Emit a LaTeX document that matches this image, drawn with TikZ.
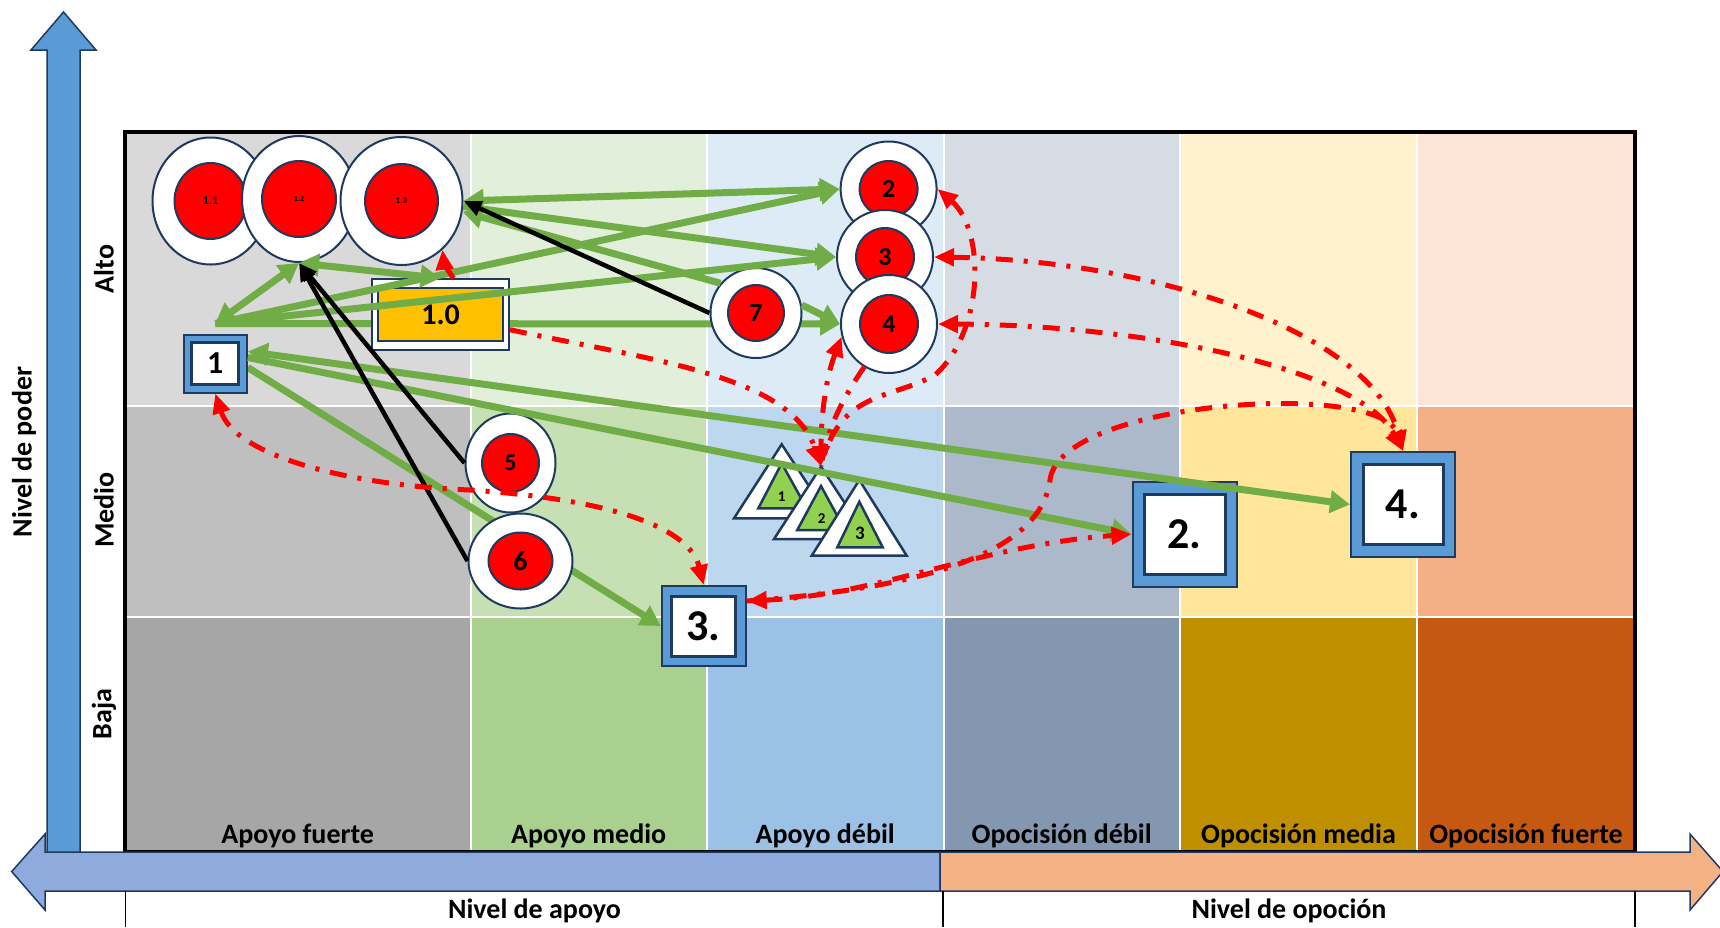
\documentclass[tikz,border=0pt]{standalone}
\usepackage{fontspec}
\setmainfont{Carlito}
\usetikzlibrary{arrows.meta,shapes.geometric}
\newcommand\fsz[1]{\fontsize{#1}{#1}\selectfont\bfseries}
\definecolor{navy}{HTML}{1F3A5F}
\definecolor{boxblue}{HTML}{5B9BD5}
\definecolor{axblue}{HTML}{5B9BD5}
\definecolor{hblue}{HTML}{8FAADC}
\definecolor{horange}{HTML}{F4B183}
\definecolor{grn}{HTML}{70AD47}
\definecolor{trig}{HTML}{92D050}
\definecolor{gold}{HTML}{FFC000}
\definecolor{af1}{HTML}{D9D9D9}\definecolor{af2}{HTML}{BFBFBF}\definecolor{af3}{HTML}{A6A6A6}
\definecolor{am1}{HTML}{E2EFDA}\definecolor{am2}{HTML}{C6E0B4}\definecolor{am3}{HTML}{A9D08E}
\definecolor{ad1}{HTML}{DDEBF7}\definecolor{ad2}{HTML}{BDD7EE}\definecolor{ad3}{HTML}{9BC2E6}
\definecolor{od1}{HTML}{D6DCE4}\definecolor{od2}{HTML}{ACB9CA}\definecolor{od3}{HTML}{8497B0}
\definecolor{om1}{HTML}{FFF2CC}\definecolor{om2}{HTML}{FFE699}\definecolor{om3}{HTML}{BF8F00}
\definecolor{of1}{HTML}{FCE4D6}\definecolor{of2}{HTML}{F4B084}\definecolor{of3}{HTML}{C65911}
\pgfdeclarelayer{back}
\pgfdeclarelayer{behind}
\pgfdeclarelayer{front}
\pgfsetlayers{back,behind,main,front}
\tikzset{
  gtip/.tip={Triangle[length=20pt,width=22pt]},
  rtip/.tip={Triangle[length=20pt,width=17pt]},
  ktip/.tip={Triangle[length=18pt,width=15pt]},
  cell/.style={draw=white,line width=2pt},
  axlab/.style={font=\fsz{28}},
  bluebox/.style={rectangle,draw=navy,line width=2pt,fill=boxblue,inner sep=0pt},
  whitebox/.style={rectangle,draw=navy,line width=3pt,fill=white,inner sep=0pt},
  outerc/.style={ellipse,draw=navy,line width=2pt,fill=white,inner sep=0pt},
  innerc/.style={ellipse,draw=navy,line width=2pt,fill=red,inner sep=0pt},
  gline/.style={draw=grn,line width=7pt},
  kline/.style={draw=black,line width=4.5pt},
  rline/.style={draw=red,line width=5pt,dash pattern=on 17pt off 11pt on 4pt off 11pt},
  tri/.style={draw=navy,line width=2.5pt},
}
\begin{document}
\begin{tikzpicture}[x=1pt,y=-1pt]
\useasboundingbox (0,0) rectangle (1720,927);
% ---------- grid ----------
\begin{pgfonlayer}{back}
\foreach \xa/\xb/\ca/\cb/\cc in {125/470.5/af1/af2/af3, 470.5/707/am1/am2/am3, 707/943.5/ad1/ad2/ad3, 943.5/1180/od1/od2/od3, 1180/1417/om1/om2/om3, 1417/1635/of1/of2/of3}{
  \filldraw[cell,fill=\ca] (\xa,132) rectangle (\xb,406);
  \filldraw[cell,fill=\cb] (\xa,406) rectangle (\xb,616.5);
  \filldraw[cell,fill=\cc] (\xa,616.5) rectangle (\xb,852);
}
\draw[line width=3.5pt] (125,132) rectangle (1635,852);
% vertical axis arrow
\draw[fill=axblue,draw=navy,line width=1.5pt] (47,853) -- (47,50) -- (31,50) -- (63.5,12) -- (96,50) -- (80,50) -- (80,853) -- cycle;
% horizontal axis arrow
\draw[fill=hblue,draw=navy,line width=1.5pt] (940,852) -- (45,852) -- (45,834) -- (11.7,871.5) -- (45,910) -- (45,891) -- (940,891) -- cycle;
\draw[fill=horange,draw=navy,line width=1.5pt] (940,852) -- (1690,852) -- (1690,834) -- (1723,871.5) -- (1690,910) -- (1690,891) -- (940,891) -- cycle;
\draw[line width=1.5pt] (125.5,891) -- (125.5,927);
\draw[line width=1.5pt] (943,891) -- (943,927);
\draw[line width=1.5pt] (1635,891) -- (1635,927);
\end{pgfonlayer}
% ---------- labels ----------
\node[axlab,anchor=base] (l1) at (297.7,843) {Apoyo fuerte};
\node[axlab,anchor=base] (l2) at (588.7,843) {Apoyo medio};
\node[axlab,anchor=base] (l3) at (825.2,843) {Apoyo débil};
\node[axlab,anchor=base] (l4) at (1061.7,843) {Opocisión débil};
\node[axlab,anchor=base] (l5) at (1298.5,843) {Opocisión media};
\node[axlab,anchor=base] (l6) at (1526,843) {Opocisión fuerte};
\node[axlab,anchor=base] (b1) at (534.5,918) {Nivel de apoyo};
\node[axlab,anchor=base] (b2) at (1289,918) {Nivel de opoción};
\node[axlab,rotate=90] (v1) at (104,269) {Alto};
\node[axlab,rotate=90] (v2) at (104,510) {Medio};
\node[axlab,rotate=90] (v3) at (104,714) {Baja};
\node[axlab,rotate=90] (v0) at (24,452) {Nivel de poder};
% ---------- nodes ----------
\node[outerc,minimum width=116pt,minimum height=127pt] (c11) at (210.5,201) {};
\node[innerc,minimum width=72pt,minimum height=76pt,font=\fsz{12}] (c11i) at (c11) {1.1};
\node[outerc,minimum width=114pt,minimum height=126pt] (c12) at (299,199) {};
\node[innerc,minimum width=74pt,minimum height=76pt,font=\fsz{8}] (c12i) at (c12) {1.2};
\node[outerc,minimum width=122pt,minimum height=128pt] (c13) at (401.5,201) {};
\node[innerc,minimum width=73pt,minimum height=74pt,font=\fsz{9}] (c13i) at (c13) {1.3};
\node[rectangle,draw=navy,line width=2pt,fill=white,minimum width=137pt,minimum height=71pt,inner sep=0pt] (box10) at (440.5,314.7) {};
\node[rectangle,draw=navy,line width=2pt,fill=gold,minimum width=125pt,minimum height=53pt,inner sep=0pt,font=\fsz{30}] (box10i) at (box10) {1.0};
\node[bluebox,minimum width=63pt,minimum height=58pt] (box1) at (215.3,363.5) {};
\node[whitebox,minimum width=47pt,minimum height=42pt,font=\fsz{32}] (box1i) at (box1) {1};
\node[outerc,minimum width=91pt,minimum height=90pt] (c7) at (756,313) {};
\node[innerc,minimum size=56pt,font=\fsz{26}] (c7i) at (c7) {7};
\node[outerc,minimum width=96pt,minimum height=95pt] (c2) at (888.6,189) {};
\node[innerc,minimum width=58pt,minimum height=56pt,font=\fsz{26}] (c2i) at (c2) {2};
\node[outerc,minimum width=96pt,minimum height=94pt] (c3) at (885,257) {};
\node[innerc,minimum size=58pt,font=\fsz{26}] (c3i) at (c3) {3};
\node[outerc,minimum width=96pt,minimum height=98pt] (c4) at (889,324) {};
\node[innerc,minimum size=58pt,font=\fsz{26}] (c4i) at (c4) {4};
\node[outerc,minimum width=90pt,minimum height=99pt] (c5) at (510.5,463) {};
\node[innerc,minimum width=57pt,minimum height=58pt,font=\fsz{24}] (c5i) at (c5) {5};
\node[outerc,minimum width=104pt,minimum height=95pt] (c6) at (520.5,561) {};
\node[innerc,minimum width=64pt,minimum height=57pt,font=\fsz{28}] (c6i) at (c6) {6};
\node[bluebox,minimum width=84pt,minimum height=80pt] (box3) at (703.7,626) {};
\node[whitebox,minimum width=64pt,minimum height=60pt,font=\fsz{44}] (box3i) at (box3) {3.};
\node[bluebox,minimum width=104pt,minimum height=105pt] (box2) at (1184.5,534.2) {};
\node[whitebox,minimum width=81pt,minimum height=80pt,font=\fsz{44}] (box2i) at (box2) {2.};
\node[bluebox,minimum width=104pt,minimum height=105pt] (box4) at (1403,504.5) {};
\node[whitebox,minimum width=80pt,minimum height=80pt,font=\fsz{44}] (box4i) at (box4) {4.};
% triangles
\draw[tri,fill=white] (781.7,444.3) -- (734,518.3) -- (830,518.3) -- cycle;
\draw[tri,fill=trig] (781.7,463.3) -- (758.3,508.3) -- (806.7,508.3) -- cycle;
\node[font=\fsz{15}] (t1) at (781.7,497) {1};
\draw[tri,fill=white] (821,466.7) -- (774,539) -- (868.3,539) -- cycle;
\draw[tri,fill=trig] (821,486) -- (797.3,530) -- (845,530) -- cycle;
\node[font=\fsz{15}] (t2) at (821.7,519) {2};
\draw[tri,fill=white] (859.3,480) -- (811.7,555.7) -- (906.7,555.7) -- cycle;
\draw[tri,fill=trig] (859.3,501.7) -- (837.3,547.3) -- (882.7,547.3) -- cycle;
\node[font=\fsz{19}] (t3) at (860,533) {3};
\coordinate (t2top) at (821,466);
\coordinate (n1top) at ([yshift=10pt]box1.north);
% ---------- connectors behind ----------
\begin{pgfonlayer}{behind}
\draw[gline,-gtip] (n1top) -- (c4.west);
\draw[gline,-gtip] ([yshift=-4pt]box1.east) -- (box3.west);
\end{pgfonlayer}
% ---------- connectors in front ----------
\begin{pgfonlayer}{front}
\draw[gline,gtip-gtip] (c13.east) -- (c2.west);
\draw[gline,-gtip] (c13.355) -- (c3.west);
\draw[gline,-gtip] (c7.140) -- (c13.350);
\draw[gline,gtip-gtip] (n1top) -- (c12.south);
\draw[gline,-gtip] (n1top) -- (c2.west);
\draw[gline,-gtip] (n1top) -- (c3.west);
\draw[gline,-gtip] (c7.10) -- (c4.west);
\draw[gline,gtip-gtip] (c12.south) -- (box10.north);
\draw[gline,gtip-gtip] ([yshift=12pt]box1.east) -- (box4.west);
\draw[gline,-gtip] ([yshift=6pt]box1.east) -- (box2.west);
\draw[kline,-ktip] (c7.west) -- (c13.east);
\draw[kline,-ktip] (c5.west) -- (c12.south);
\draw[kline,-ktip] (c6.west) -- (c12.south);
% red dash-dot
\draw[rline,-rtip] ([xshift=13pt]box10.north) to[bend left=15] (c13.310);
\draw[rline,-rtip] ([yshift=-15pt]box10.east) .. controls (650,360) and (790,375) .. (t2top);
\draw[rline,rtip-rtip] (box1.south) .. controls (235,455) and (345,485) .. (470,490) .. controls (620,500) and (690,530) .. (box3.north);
\draw[rline,rtip-rtip] ([yshift=25pt]box3.east) .. controls (880,595) and (980,545) .. (box2.west);
\draw[rline,-rtip] ([yshift=25pt]box3.east) .. controls (900,590) and (1040,560) .. (1050,480) .. controls (1060,400) and (1380,380) .. (box4.north);
\draw[rline,rtip-rtip] (c3.east) .. controls (1150,260) and (1370,330) .. (box4.north);
\draw[rline,rtip-rtip] (c4.east) .. controls (1150,325) and (1360,370) .. (box4.north);
\draw[rline,rtip-] (c2.east) .. controls (985,230) and (985,330) .. (935,375) .. controls (890,400) and (840,390) .. (t2top);
\draw[rline,rtip-rtip] (c4.195) .. controls (825,380) and (821,420) .. (t2top);
\draw[rline] (c4.240) .. controls (845,395) and (828,425) .. (t2top);
\end{pgfonlayer}
\end{tikzpicture}
\end{document}
